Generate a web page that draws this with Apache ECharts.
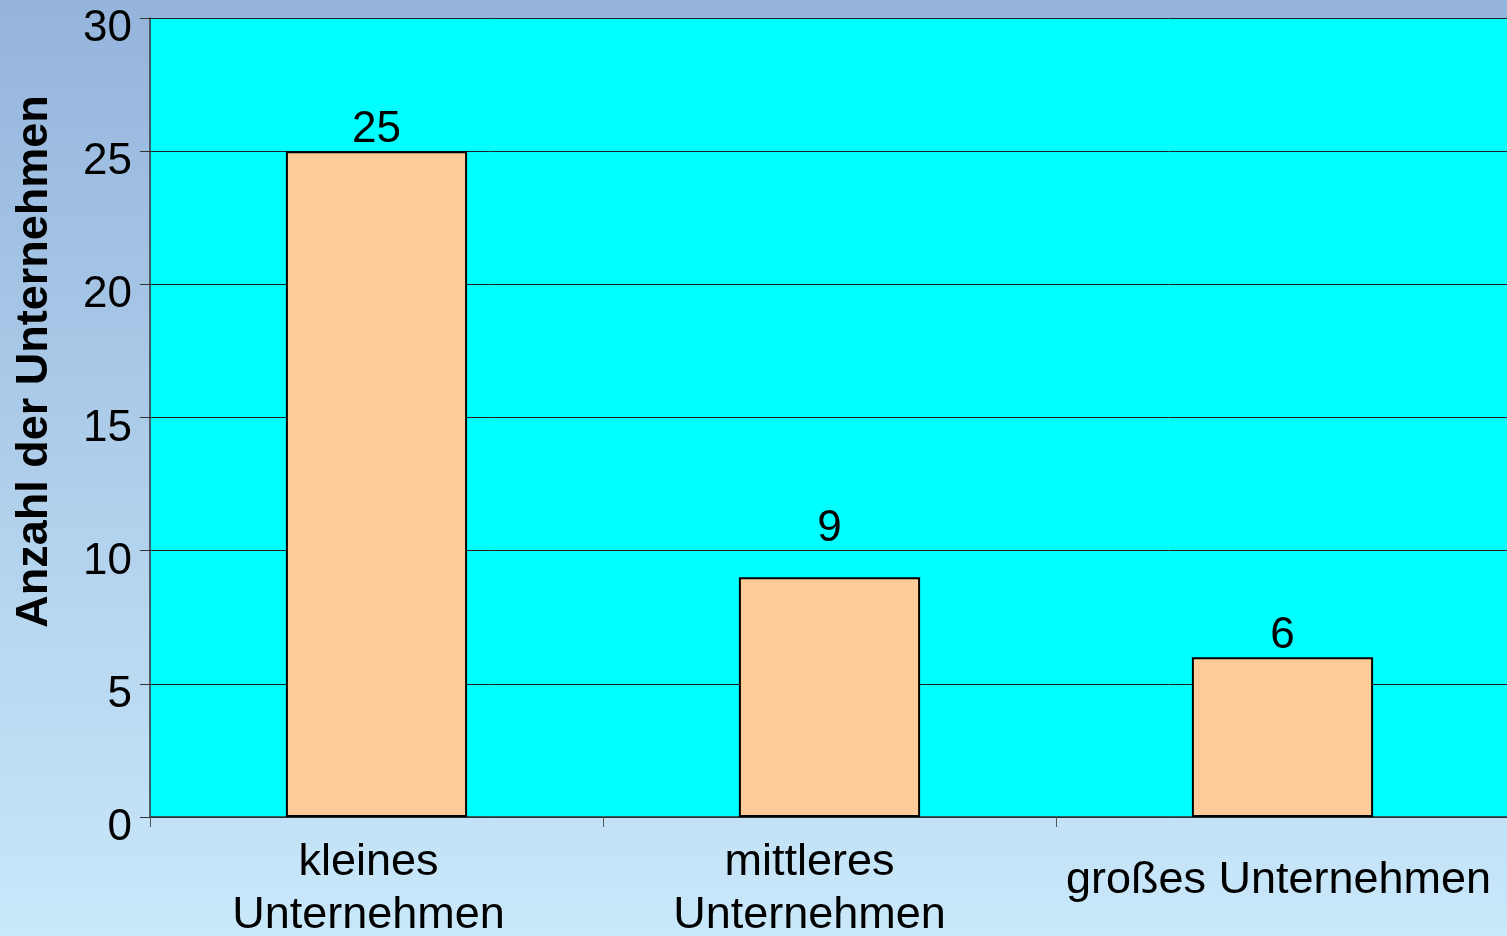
<!DOCTYPE html>
<html>
<head>
<meta charset="utf-8">
<script src="https://cdn.jsdelivr.net/npm/echarts@6/dist/echarts.min.js"></script>
<style>
  html, body { margin: 0; padding: 0; }
  #chart { width: 1507px; height: 936px; }
</style>
</head>
<body>
<div id="chart"></div>
<script>
// Chart data
const categories = ['kleines\nUnternehmen', 'mittleres\nUnternehmen', 'großes Unternehmen'];
const counts = [25, 9, 6];
const yTicks = { min: 0, max: 30, interval: 5 };

const chart = echarts.init(document.getElementById('chart'), null, { renderer: 'canvas' });

const font = '"Liberation Sans", Arial, sans-serif';

// the "9" label sits a bit higher in the original
const barData = counts.map((v, i) => (i === 1 ? { value: v, label: { distance: 26 } } : v));

// category labels are nudged a little left in the original
const labelShift = [16, 40, 8];

chart.setOption({
  backgroundColor: {
    type: 'linear', x: 0, y: 0, x2: 0, y2: 1,
    colorStops: [
      { offset: 0, color: '#94b4dc' },
      { offset: 1, color: '#c9e8fa' }
    ]
  },
  textStyle: { fontFamily: font },
  grid: {
    show: true,
    backgroundColor: '#00ffff',
    borderWidth: 0,
    left: 150,
    top: 18,
    width: 1359,
    bottom: 119,
    containLabel: false,
    outerBoundsMode: 'none'
  },
  xAxis: {
    type: 'category',
    data: categories,
    axisLine: { lineStyle: { color: '#333333', width: 1.5 } },
    axisTick: { show: true, length: 10, lineStyle: { color: '#555555' } },
    axisLabel: {
      verticalAlign: 'middle',
      margin: 72,
      interval: 0,
      formatter: (value, idx) => {
        const lines = value.split('\n');
        const key = lines.length > 1 ? 'm' + idx : 's' + idx;
        return lines.map(l => '{' + key + '|' + l + '}').join('\n');
      },
      rich: (() => {
        const base = { color: '#000000', fontSize: 45, fontFamily: font, lineHeight: 53 };
        const r = {};
        labelShift.forEach((s, i) => {
          r['m' + i] = Object.assign({}, base, { padding: [0, s, 0, 0] });
          r['s' + i] = Object.assign({}, base, { padding: [0, s, 16, 0] });
        });
        return r;
      })()
    }
  },
  yAxis: {
    type: 'value',
    min: yTicks.min,
    max: yTicks.max,
    interval: yTicks.interval,
    name: 'Anzahl der Unternehmen',
    nameLocation: 'middle',
    nameGap: 93,
    nameTextStyle: {
      color: '#000000',
      fontSize: 45,
      fontWeight: 'bold',
      fontFamily: font,
      padding: [0, 0, 0, 112]
    },
    axisLine: { show: true, lineStyle: { color: '#333333', width: 1.5 } },
    axisTick: { show: true, length: 10, lineStyle: { color: '#333333' } },
    axisLabel: {
      margin: 18,
      formatter: '{v|{value}}',
      rich: {
        v: {
          color: '#000000',
          fontSize: 44,
          fontFamily: font,
          padding: [22, 0, 0, 0]
        }
      }
    },
    splitLine: { show: true, lineStyle: { color: '#222222', width: 1 } }
  },
  series: [{
    type: 'bar',
    data: barData,
    barWidth: '40%',
    itemStyle: { color: '#ffcc99', borderColor: '#000000', borderWidth: 2 },
    label: {
      show: true,
      position: 'top',
      distance: -1,
      color: '#000000',
      fontSize: 44,
      fontFamily: font
    }
  }]
});
</script>
</body>
</html>
